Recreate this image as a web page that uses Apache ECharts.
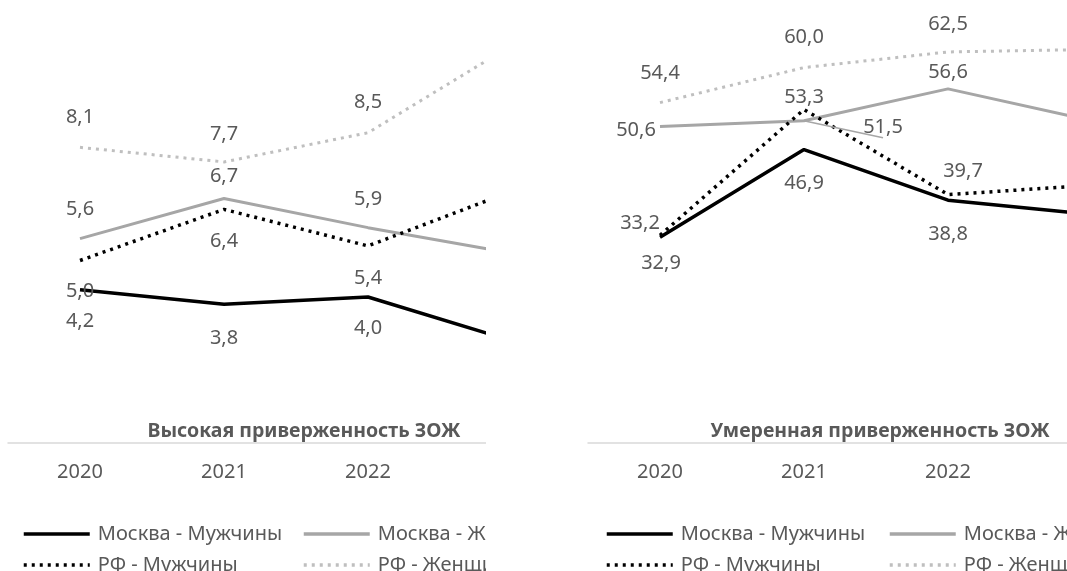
<!DOCTYPE html>
<html>
<head>
<meta charset="utf-8">
<script src="https://cdn.jsdelivr.net/npm/echarts@6/dist/echarts.min.js"></script>
<style>
  html, body { margin: 0; padding: 0; background: #ffffff; overflow: hidden; }
  .panel { position: absolute; top: 0; height: 571px; overflow: hidden; }
  #leftPanel { left: 0; width: 486px; }
  #rightPanel { left: 540px; width: 527px; }
  .chart { position: absolute; left: 0; top: 0; height: 620px; }
  #leftChart { width: 620px; }
  #rightChart { width: 660px; }
</style>
</head>
<body>
<div id="leftPanel" class="panel"><div id="leftChart" class="chart"></div></div>
<div id="rightPanel" class="panel"><div id="rightChart" class="chart"></div></div>
<script>
// Survey years
const years = ['2020', '2021', '2022', '2023'];

// Series names
const nameMoscowMen = 'Москва - Мужчины';
const nameMoscowWomen = 'Москва - Женщины';
const nameRfMen = 'РФ - Мужчины';
const nameRfWomen = 'РФ - Женщины';

// High adherence to a healthy lifestyle, %
const highMoscowMen = [4.2, 3.8, 4.0, 2.8];
const highMoscowWomen = [5.6, 6.7, 5.9, 5.2];
const highRfMen = [5.0, 6.4, 5.4, 6.9];
const highRfWomen = [8.1, 7.7, 8.5, 10.9];

// Moderate adherence to a healthy lifestyle, %
const modMoscowMen = [32.9, 46.9, 38.8, 36.5];
const modMoscowWomen = [50.6, 51.5, 56.6, 51.5];
const modRfMen = [33.2, 53.3, 39.7, 41.2];
const modRfWomen = [54.4, 60.0, 62.5, 62.9];

// Label placement (offset of the label centre from its point)
const highLabelShift = {
  moscowMen:   [[0, 32], [0, 34], [0, 31], [0, 32]],
  moscowWomen: [[0, -29], [0, -22], [0, -28], [0, -29]],
  rfMen:       [[0, 31], [0, 32], [0, 32], [0, 32]],
  rfWomen:     [[0, -30], [0, -28], [0, -30], [0, -30]]
};
const modLabelShift = {
  moscowMen:   [[1, 26], [0, 34], [0, 34], [0, 32]],
  moscowWomen: [[-24, 4], [79, 7], [0, -17], [0, -29]],
  rfMen:       [[-20, -12], [0, -12], [15, -23], [0, -29]],
  rfWomen:     [[0, -29], [0, -30], [0, -28], [0, -29]]
};

const FONT = '"Noto Sans", "Open Sans", sans-serif';
const TEXT = '#595959';

const styles = {
  moscowMen:   { color: '#000000', width: 3.5, type: 'solid' },
  moscowWomen: { color: '#a6a6a6', width: 3, type: 'solid' },
  rfMen:       { color: '#000000', width: 3.5, type: [3, 5] },
  rfWomen:     { color: '#bfbfbf', width: 3, type: [3, 5] }
};

function fmt(v) { return v.toFixed(1).replace('.', ','); }

function makeSeries(name, values, style, shifts, guideIndex) {
  return {
    name: name,
    type: 'line',
    data: values.map((v, i) => {
      const item = { value: v, label: { offset: shifts[i] } };
      if (i === guideIndex) {
        item.labelLine = { show: true, lineStyle: { color: style.color, width: 1.5 } };
      }
      return item;
    }),
    symbol: 'circle',
    symbolSize: 2,
    itemStyle: { color: 'rgba(0,0,0,0)' },
    lineStyle: { color: style.color, width: style.width, type: style.type, cap: 'butt' },
    label: {
      show: true,
      position: 'inside',
      formatter: p => fmt(p.value),
      fontSize: 20,
      fontFamily: FONT,
      color: TEXT
    },
    emphasis: { disabled: true },
    silent: true,
    animation: false
  };
}

function legendColumn(names, left) {
  return {
    data: names,
    orient: 'vertical',
    left: left,
    top: 524,
    padding: 0,
    itemGap: 11,
    itemWidth: 66,
    itemHeight: 20,
    selectedMode: false,
    lineStyle: { width: 3.5 },
    textStyle: { fontSize: 20, fontFamily: FONT, color: TEXT, padding: [0, 0, 0, 3] }
  };
}

function buildOption(cfg) {
  return {
    animation: false,
    grid: { left: cfg.gridLeft, top: 5, width: 576, height: 438 },
    xAxis: {
      type: 'category',
      data: years,
      boundaryGap: true,
      axisLine: { lineStyle: { color: '#d9d9d9', width: 1.5 } },
      axisTick: { show: false },
      axisLabel: { fontSize: 20, fontFamily: FONT, color: TEXT, margin: 19 },
      splitLine: { show: false }
    },
    yAxis: {
      type: 'value',
      min: 0,
      max: cfg.yMax,
      show: false,
      splitLine: { show: false }
    },
    legend: [
      legendColumn([nameMoscowMen, nameRfMen], cfg.legendLeft[0]),
      legendColumn([nameMoscowWomen, nameRfWomen], cfg.legendLeft[1])
    ],
    graphic: [{
      type: 'text',
      x: cfg.titleX,
      y: 431,
      z: 10,
      style: {
        text: cfg.title,
        align: 'center',
        verticalAlign: 'middle',
        fontSize: 19.5,
        fontWeight: 'bold',
        fontFamily: FONT,
        fill: TEXT
      }
    }],
    series: [
      makeSeries(nameMoscowMen, cfg.data.moscowMen, styles.moscowMen, cfg.shift.moscowMen, -1),
      makeSeries(nameMoscowWomen, cfg.data.moscowWomen, styles.moscowWomen, cfg.shift.moscowWomen, cfg.guideIndex),
      makeSeries(nameRfMen, cfg.data.rfMen, styles.rfMen, cfg.shift.rfMen, -1),
      makeSeries(nameRfWomen, cfg.data.rfWomen, styles.rfWomen, cfg.shift.rfWomen, -1)
    ]
  };
}

const leftChart = echarts.init(document.getElementById('leftChart'), null, { renderer: 'canvas' });
leftChart.setOption(buildOption({
  gridLeft: 8,
  yMax: 12,
  legendLeft: [22, 302],
  titleX: 304,
  title: 'Высокая приверженность ЗОЖ',
  guideIndex: -1,
  data: { moscowMen: highMoscowMen, moscowWomen: highMoscowWomen, rfMen: highRfMen, rfWomen: highRfWomen },
  shift: highLabelShift
}));

const rightChart = echarts.init(document.getElementById('rightChart'), null, { renderer: 'canvas' });
rightChart.setOption(buildOption({
  gridLeft: 48,
  yMax: 70,
  legendLeft: [65, 348],
  titleX: 340,
  title: 'Умеренная приверженность ЗОЖ',
  guideIndex: 1,
  data: { moscowMen: modMoscowMen, moscowWomen: modMoscowWomen, rfMen: modRfMen, rfWomen: modRfWomen },
  shift: modLabelShift
}));
</script>
</body>
</html>
